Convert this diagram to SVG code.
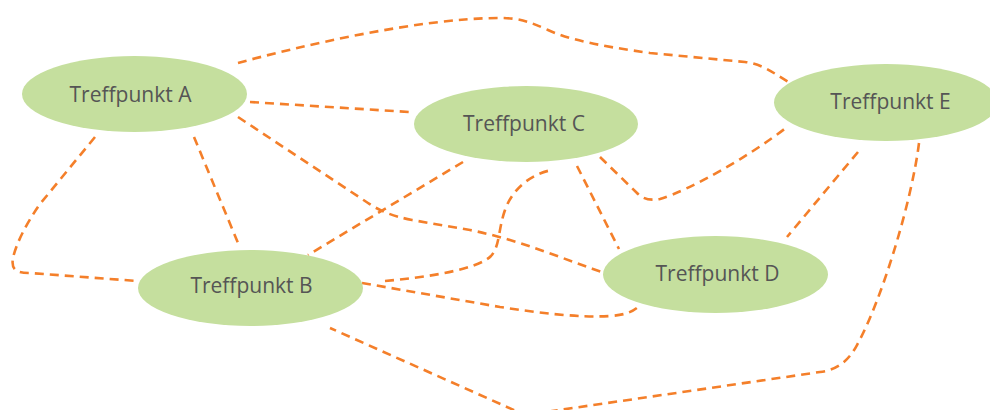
<svg xmlns="http://www.w3.org/2000/svg" width="990" height="410" viewBox="0 0 990 410">
  <style>
    .node ellipse { fill: #C5DF9E; }
    .node text { font-family: "Open Sans", "Noto Sans", "Liberation Sans", sans-serif; font-size: 21px; fill: #555555; text-anchor: middle; }
    .links path { fill: none; stroke: #F47F2A; stroke-width: 2.6; stroke-dasharray: 9 6; stroke-linecap: butt; stroke-linejoin: round; }
  </style>
  <rect width="990" height="410" fill="#FFFFFF"/>

  <g class="links" id="connectors">
    <!-- A over the top to E -->
    <path d="M238,63 C300,46 420,18 500,18 C520,18 530,22 548,30 C570,40 600,46 650,53 L745,62 C762,64 772,72 790,83"/>
    <!-- A to C -->
    <path d="M250,102 L409,112"/>
    <!-- A to D -->
    <path d="M238,117 L368,203 C380,211 392,216 412,220 L470,230 C520,240 560,258 602,272"/>
    <!-- A to B -->
    <path d="M194,137 L238,243"/>
    <!-- A round the left to B -->
    <path d="M95,137 L40,204 C26,224 16,244 13,258 C11,270 16,273 30,273 L137,281"/>
    <!-- C to B -->
    <path d="M463,162 L308,255"/>
    <!-- B curving up to C -->
    <path d="M385,281 C430,277 478,269 491,256 C500,246 498,230 505,210 C512,190 530,174 552,170"/>
    <!-- B to D -->
    <path d="M362,283 L500,307 C540,313 580,318 610,316 C625,315 632,312 638,307"/>
    <!-- C to D -->
    <path d="M577,166 L619,249"/>
    <!-- C dipping down to E -->
    <path d="M600,157 L637,193 C642,198 648,201 660,199 C690,190 750,156 787,127"/>
    <!-- E to D -->
    <path d="M858,152 L787,237"/>
    <!-- E down and round the bottom to B -->
    <path d="M919,143 C912,200 882,300 857,345 C849,360 838,370 820,372 L525,415 L330,328"/>
  </g>

  <g class="node" id="node-a">
    <ellipse cx="134.5" cy="94" rx="112.5" ry="38"/>
    <text x="130.5" y="102">Treffpunkt A</text>
  </g>
  <g class="node" id="node-c">
    <ellipse cx="526" cy="124" rx="112" ry="38"/>
    <text x="524" y="131">Treffpunkt C</text>
  </g>
  <g class="node" id="node-e">
    <ellipse cx="886" cy="102.5" rx="112" ry="38.5"/>
    <text x="890.5" y="108.5">Treffpunkt E</text>
  </g>
  <g class="node" id="node-b">
    <ellipse cx="250.5" cy="288" rx="112.5" ry="38"/>
    <text x="251.5" y="292.5">Treffpunkt B</text>
  </g>
  <g class="node" id="node-d">
    <ellipse cx="715.5" cy="274.5" rx="112.5" ry="38.5"/>
    <text x="717.5" y="281">Treffpunkt D</text>
  </g>
</svg>
